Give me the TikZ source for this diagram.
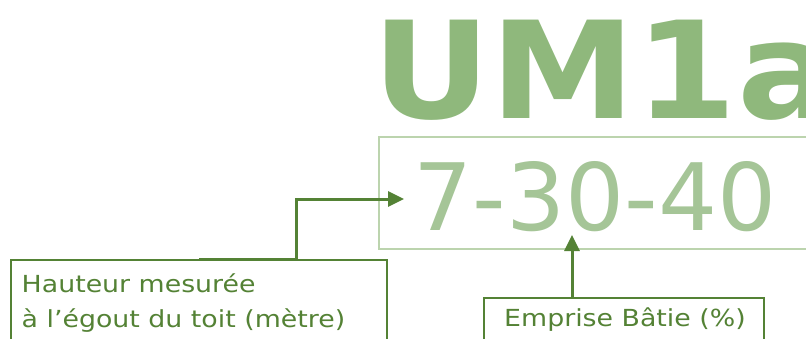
\documentclass[tikz,border=0pt]{standalone}
\usepackage{fontspec}
\setmainfont{DejaVu Sans}
\newfontfamily\labfont[FakeStretch=1.14]{DejaVu Sans}
\newfontfamily\titfont[FakeStretch=1.08]{DejaVu Sans Bold}
\usetikzlibrary{arrows.meta}
\definecolor{dgreen}{HTML}{548235}
\definecolor{lgreen}{HTML}{8FB87C}
\definecolor{mgreen}{HTML}{A5C597}
\definecolor{bgreen}{HTML}{BCD4AE}
\tikzset{
  conn/.style={draw=dgreen, line width=3pt, -{Triangle[length=16pt,width=15pt]}},
  lbox/.style={draw=dgreen, line width=2pt, inner sep=0pt, anchor=north west},
  ltext/.style={text=dgreen, font=\labfont\fontsize{23.5}{35}\selectfont, inner sep=0pt, anchor=base west, align=left},
}
\begin{document}
\begin{tikzpicture}[x=1pt,y=-1pt]
\useasboundingbox (0,0) rectangle (806,338);
\clip (0,0) rectangle (806,338);
\node[inner sep=0pt, anchor=base west, text=lgreen, font=\titfont\fontsize{135}{135}\selectfont] (title) at (372,118) {UM1a};
\node[draw=bgreen, line width=1.6pt, inner sep=0pt, anchor=north west, minimum width=460pt, minimum height=112pt] (numbox) at (378,136) {};
\node[inner sep=0pt, anchor=base, text=mgreen, font=\fontsize{93}{93}\selectfont] (num) at (595,230) {7-30-40};
\node[lbox, minimum width=376pt, minimum height=100pt] (hbox) at (10,259) {};
\node[ltext] (htext) at (21.5,327.7) {Hauteur mesurée\\à l’égout du toit (mètre)};
\node[lbox, minimum width=280pt, minimum height=60pt] (ebox) at (483,297) {};
\node[ltext, anchor=base] (etext) at (625,326.7) {Emprise Bâtie (\%)};
\coordinate (t1) at (404,199);
\coordinate (bend) at (296,259);
\coordinate (t2) at (572,235);
\draw[conn] (hbox.north) -- (bend) |- (t1);
\draw[conn] (ebox.north -| t2) -- (t2);
\end{tikzpicture}
\end{document}
